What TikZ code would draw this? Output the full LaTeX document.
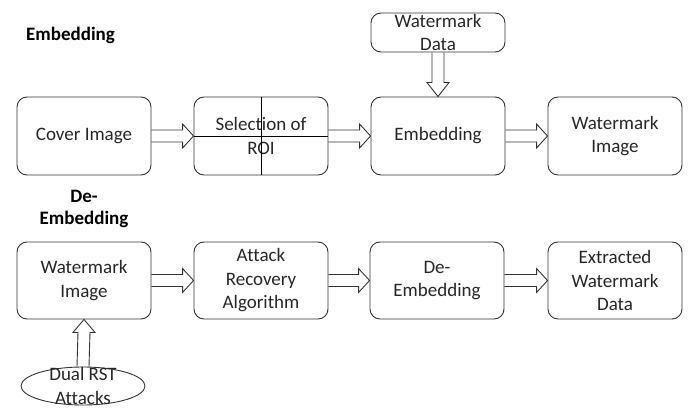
\documentclass[tikz,border=0pt]{standalone}
\usepackage{fontspec}
\setmainfont[Ligatures=NoCommon]{Carlito}
\usetikzlibrary{calc,shapes.geometric}

\newcommand\harrow[2]{%
  \draw[hollow] ($(#1.east)+(0,6)$) -- ($(#2.west)+(-11,6)$) -- ($(#2.west)+(-11,12)$)
    -- (#2.west) -- ($(#2.west)+(-11,-12)$) -- ($(#2.west)+(-11,-6)$) -- ($(#1.east)+(0,-6)$);}

\begin{document}
\begin{tikzpicture}[x=1pt,y=1pt,
  box/.style={draw=black!80, line width=0.9pt, rounded corners=10pt, minimum width=134pt,
    minimum height=78pt, inner sep=0pt, align=center, text=black!85,
    font=\fontsize{19}{23.5}\selectfont},
  title/.style={align=center, text=black, font=\fontsize{19}{22}\selectfont\bfseries},
  hollow/.style={draw=black!80, line width=0.9pt, line join=miter}]
  \useasboundingbox (0,0) rectangle (689,408);

  \node[title] (ttop) at (70.5,373) {Embedding};
  \node[title] (tbot) at (84,199) {De-\\Embedding};

  \node[box] (cover) at (84,272) {Cover Image};
  \node[box] (roi) at (261,272) {Selection of\\ROI};
  \node[box] (emb) at (438,272) {Embedding};
  \node[box] (wm1) at (615,272) {Watermark\\Image};
  \node[box, minimum height=39pt, inner ysep=-6pt] (data) at (438,375.5) {Watermark\\Data};

  \draw[black] (roi.north) -- (roi.south);
  \draw[black] (roi.west) -- (roi.east);

  \node[box, minimum height=77pt] (wm2) at (84,127.5) {Watermark\\Image};
  \node[box, minimum height=77pt] (rec) at (261,127.5) {Attack\\Recovery\\Algorithm};
  \node[box, minimum height=77pt] (demb) at (437,127.5) {De-\\Embedding};
  \node[box, minimum height=77pt] (ext) at (615,127.5) {Extracted\\Watermark\\Data};

  \harrow{cover}{roi}
  \harrow{roi}{emb}
  \harrow{emb}{wm1}
  \harrow{wm2}{rec}
  \harrow{rec}{demb}
  \harrow{demb}{ext}

  \draw[hollow] ($(data.south)+(-6,0)$) -- ($(emb.north)+(-6,14)$) -- ($(emb.north)+(-11,14)$)
    -- (emb.north) -- ($(emb.north)+(11,14)$) -- ($(emb.north)+(6,14)$) -- ($(data.south)+(6,0)$);

  \node[box, ellipse, rounded corners=0pt, minimum width=124pt, minimum height=38pt,
    inner sep=-10pt] (rst) at (83,22) {Dual RST\\Attacks};

  \draw[hollow] ($(rst.north)+(-6,0)$) -- ($(wm2.south)+(-6,-13)$) -- ($(wm2.south)+(-11,-13)$)
    -- (wm2.south) -- ($(wm2.south)+(11,-13)$) -- ($(wm2.south)+(6,-13)$) -- ($(rst.north)+(6,0)$);
\end{tikzpicture}
\end{document}
